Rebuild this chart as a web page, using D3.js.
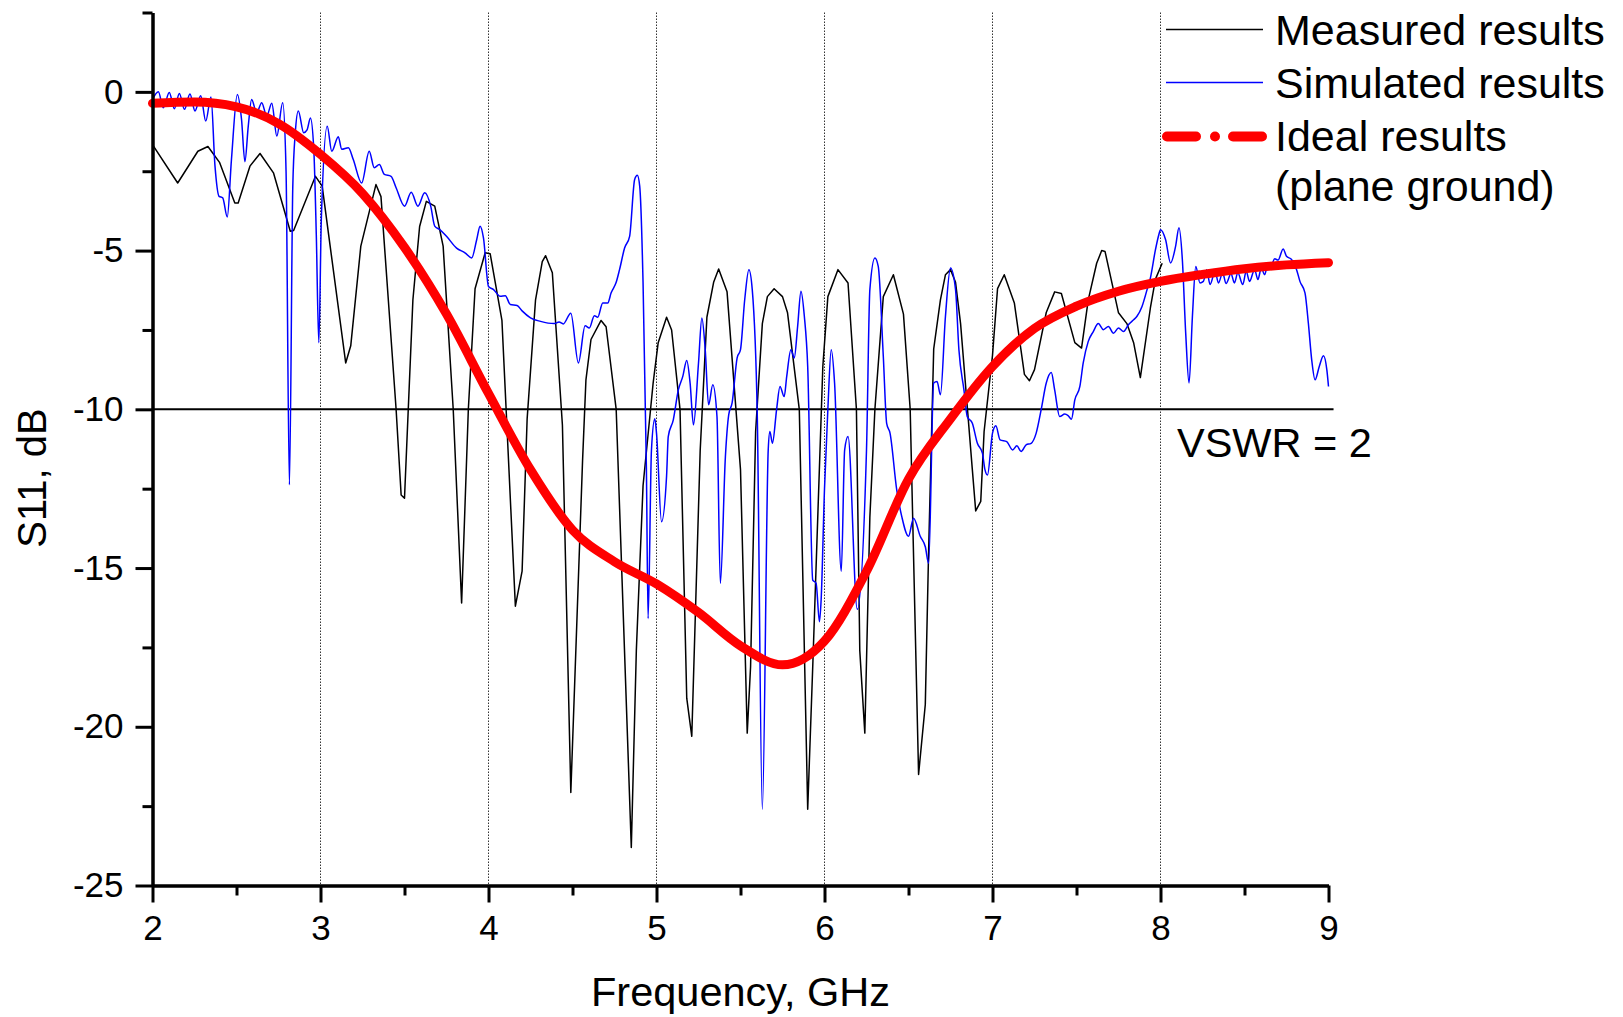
<!DOCTYPE html>
<html>
<head>
<meta charset="utf-8">
<script src="https://cdn.jsdelivr.net/npm/d3@7"></script>
<style>
  html, body { margin: 0; padding: 0; background: #fff; }
  svg { display: block; }
  text { font-family: "Liberation Sans", Arial, sans-serif; fill: #000; }
</style>
</head>
<body>
<svg id="chart" width="1623" height="1017"></svg>
<script>
// ---------- data ----------
const measuredFreq = [2.0,2.15,2.27,2.33,2.40,2.49,2.51,2.58,2.64,2.72,2.82,2.84,2.97,3.01,3.15,3.18,3.24,3.33,3.36,3.45,3.48,3.50,3.55,3.59,3.63,3.68,3.73,3.79,3.84,3.88,3.92,3.98,4.01,4.08,4.16,4.20,4.23,4.28,4.32,4.34,4.38,4.44,4.49,4.56,4.58,4.61,4.67,4.70,4.76,4.85,4.88,4.92,4.98,5.01,5.06,5.09,5.14,5.18,5.21,5.26,5.30,5.34,5.37,5.42,5.50,5.54,5.56,5.59,5.63,5.66,5.70,5.75,5.78,5.85,5.90,5.93,5.99,6.02,6.08,6.14,6.19,6.21,6.24,6.27,6.30,6.35,6.41,6.47,6.51,6.56,6.60,6.62,6.65,6.69,6.72,6.75,6.78,6.81,6.88,6.90,6.93,6.95,7.00,7.03,7.07,7.13,7.19,7.22,7.25,7.32,7.37,7.41,7.49,7.53,7.57,7.62,7.65,7.67,7.75,7.80,7.84,7.88,7.94,7.97,8.01];
const measuredS11 = [-1.66,-2.87,-1.87,-1.72,-2.23,-3.5,-3.5,-2.34,-1.94,-2.55,-4.39,-4.37,-2.66,-2.97,-8.54,-8.0,-4.86,-2.92,-3.3,-10.0,-12.7,-12.8,-6.55,-4.24,-3.45,-3.6,-4.86,-10.0,-16.1,-10.0,-6.2,-5.07,-5.1,-7.2,-16.2,-15.1,-10.3,-6.55,-5.35,-5.16,-5.7,-10.5,-22.07,-11.6,-9.07,-7.8,-7.2,-7.4,-10.0,-23.8,-17.6,-12.4,-9.17,-7.9,-7.1,-7.5,-10.0,-19.1,-20.3,-11.3,-7.1,-6.0,-5.58,-6.3,-11.9,-20.2,-18.1,-10.7,-7.3,-6.45,-6.2,-6.45,-6.96,-10.0,-22.6,-18.1,-8.66,-6.45,-5.6,-6.02,-10.0,-17.6,-20.2,-13.4,-10.0,-6.45,-5.76,-7.0,-10.0,-21.5,-19.3,-14.4,-8.1,-6.55,-5.76,-5.6,-6.0,-7.3,-11.9,-13.2,-12.9,-10.7,-8.3,-6.2,-5.76,-6.65,-8.9,-9.1,-8.75,-6.95,-6.3,-6.35,-7.9,-8.07,-6.55,-5.4,-5.0,-5.03,-6.96,-7.3,-7.9,-9.0,-6.8,-5.9,-5.4];

const simulatedFreq = [2.0,2.035,2.064,2.10,2.13,2.16,2.19,2.223,2.253,2.287,2.317,2.348,2.372,2.396,2.418,2.445,2.47,2.505,2.53,2.55,2.57,2.59,2.62,2.65,2.68,2.71,2.74,2.775,2.795,2.815,2.835,2.85,2.868,2.90,2.92,2.94,2.96,2.975,2.99,3.005,3.04,3.067,3.106,3.126,3.166,3.195,3.245,3.29,3.32,3.35,3.38,3.42,3.45,3.50,3.54,3.58,3.62,3.656,3.68,3.71,3.75,3.81,3.86,3.90,3.93,3.95,3.97,4.0,4.03,4.07,4.10,4.13,4.17,4.20,4.25,4.31,4.39,4.42,4.445,4.49,4.535,4.575,4.60,4.63,4.65,4.68,4.71,4.73,4.76,4.78,4.81,4.84,4.87,4.886,4.90,4.92,4.94,4.95,4.97,4.99,5.0,5.03,5.06,5.07,5.10,5.13,5.156,5.18,5.20,5.22,5.25,5.27,5.29,5.31,5.335,5.36,5.38,5.41,5.43,5.45,5.48,5.50,5.525,5.55,5.57,5.60,5.63,5.665,5.675,5.69,5.715,5.735,5.76,5.775,5.80,5.82,5.84,5.86,5.88,5.90,5.93,5.95,5.97,5.98,6.0,6.02,6.04,6.06,6.10,6.12,6.14,6.195,6.25,6.27,6.30,6.32,6.35,6.37,6.39,6.43,6.46,6.50,6.53,6.57,6.60,6.62,6.65,6.67,6.69,6.72,6.75,6.78,6.80,6.83,6.85,6.88,6.91,6.94,6.955,6.97,7.0,7.02,7.045,7.085,7.12,7.145,7.17,7.20,7.23,7.26,7.29,7.32,7.35,7.37,7.40,7.43,7.45,7.47,7.49,7.52,7.54,7.57,7.60,7.63,7.66,7.69,7.72,7.75,7.78,7.81,7.84,7.86,7.89,7.92,7.94,7.97,7.99,8.00,8.03,8.06,8.09,8.11,8.13,8.15,8.17,8.19,8.21,8.235,8.255,8.275,8.295,8.325,8.345,8.37,8.39,8.42,8.44,8.46,8.49,8.51,8.53,8.56,8.58,8.60,8.62,8.64,8.66,8.68,8.70,8.73,8.75,8.78,8.81,8.83,8.86,8.88,8.90,8.92,8.945,8.97,8.99,9.0];
const simulatedS11 = [-0.24,0.0,-0.5,-0.02,-0.53,-0.05,-0.55,-0.07,-0.6,-0.12,-0.92,-0.16,-2.34,-3.29,-3.34,-3.94,-2.13,-0.08,-0.87,-2.2,-1.08,-0.24,-0.66,-0.34,-0.76,-0.36,-1.39,-0.34,-2.5,-12.38,-3.0,-1.28,-0.6,-1.29,-1.2,-0.82,-1.8,-4.5,-7.9,-4.0,-1.08,-1.87,-1.41,-1.81,-1.76,-2.13,-2.87,-1.87,-2.39,-2.29,-2.6,-2.66,-3.02,-3.6,-3.16,-3.6,-3.18,-3.6,-4.23,-4.34,-4.55,-4.92,-5.07,-5.23,-4.65,-4.23,-4.6,-6.13,-6.23,-6.44,-6.42,-6.7,-6.73,-6.9,-7.12,-7.23,-7.3,-7.25,-7.31,-6.97,-8.54,-7.37,-7.44,-7.05,-7.1,-6.65,-6.65,-6.33,-6.0,-5.6,-4.92,-4.55,-2.76,-2.63,-2.97,-6.02,-11.9,-16.59,-11.28,-10.3,-10.75,-13.54,-12.1,-10.86,-10.33,-9.39,-8.97,-8.46,-9.17,-10.49,-8.54,-7.12,-8.12,-9.86,-9.23,-10.23,-15.48,-11.5,-10.17,-9.8,-8.38,-8.12,-6.55,-5.6,-6.23,-10.23,-22.6,-11.28,-10.7,-11.07,-10.0,-9.28,-9.6,-8.97,-8.12,-8.38,-7.39,-6.28,-7.07,-8.65,-15.38,-15.48,-16.69,-16.0,-12.5,-10.0,-8.12,-9.17,-15.1,-11.28,-10.86,-16.3,-11.28,-6.23,-5.23,-5.5,-8.33,-10.44,-10.75,-12.54,-13.38,-14.0,-13.43,-14.0,-14.33,-14.85,-9.17,-9.12,-9.54,-7.07,-5.55,-6.23,-8.12,-9.39,-10.23,-10.44,-11.07,-11.38,-11.9,-12.07,-10.75,-10.52,-10.96,-11.02,-11.28,-11.15,-11.33,-11.12,-11.07,-10.75,-10.0,-9.17,-8.84,-9.39,-10.23,-10.15,-10.2,-10.31,-9.7,-9.28,-8.54,-7.86,-7.55,-7.30,-7.49,-7.39,-7.6,-7.44,-7.55,-7.33,-7.18,-7.07,-6.76,-6.23,-5.86,-4.97,-4.5,-4.34,-4.65,-5.39,-4.86,-4.28,-5.28,-7.6,-9.17,-7.07,-5.5,-6.02,-5.97,-5.6,-6.07,-5.65,-6.02,-5.70,-6.04,-5.73,-6.02,-5.70,-6.07,-5.65,-5.97,-5.6,-5.91,-5.55,-5.76,-5.39,-5.44,-5.26,-5.3,-4.95,-5.18,-5.28,-5.6,-5.97,-6.33,-7.28,-8.44,-9.07,-8.65,-8.31,-8.75,-9.28];

const idealFreq = [2.0,2.25,2.5,2.75,3.0,3.25,3.5,3.75,4.0,4.25,4.5,4.75,5.0,5.25,5.5,5.75,6.0,6.25,6.5,6.75,7.0,7.25,7.5,7.75,8.0,8.25,8.5,8.75,9.0];
const idealS11 = [-0.36,-0.32,-0.47,-1.0,-1.97,-3.2,-4.9,-7.0,-9.5,-11.9,-13.8,-14.8,-15.5,-16.4,-17.45,-18.05,-17.3,-15.1,-12.2,-10.3,-8.65,-7.45,-6.75,-6.28,-5.97,-5.75,-5.57,-5.45,-5.38];

const xMajorTicks = [2,3,4,5,6,7,8,9];
const xMinorTicks = [2.5,3.5,4.5,5.5,6.5,7.5,8.5];
const yMajorTicks = [0,-5,-10,-15,-20,-25];
const yMinorTicks = [2.5,-2.5,-7.5,-12.5,-17.5,-22.5];
const gridFreqs = [3,4,5,6,7,8];
const vswrLevel = -10;
const seriesNames = ["Measured results","Simulated results","Ideal results","(plane ground)"];

// ---------- chart ----------
const svg = d3.select("#chart");
const x = d3.scaleLinear().domain([2, 9]).range([152.5, 1328.5]);
const y = d3.scaleLinear().domain([-25, 2.5]).range([885.5, 12.5]);

// vertical dotted grid
svg.append("g").selectAll("line").data(gridFreqs).join("line")
  .attr("x1", d => x(d)).attr("x2", d => x(d))
  .attr("y1", y(2.5)).attr("y2", y(-25))
  .attr("stroke", "#333").attr("stroke-width", 1)
  .attr("stroke-dasharray", "1.5,1.5");

// VSWR = 2 line
svg.append("line")
  .attr("x1", x(2)).attr("x2", x(9.03))
  .attr("y1", y(vswrLevel)).attr("y2", y(vswrLevel))
  .attr("stroke", "#000").attr("stroke-width", 2);

svg.append("text")
  .attr("x", 1177).attr("y", 457)
  .attr("font-size", 41.5)
  .text("VSWR = 2");

const line = d3.line().x(d => x(d[0])).y(d => y(d[1]));

const measured = measuredFreq.map((f, i) => [f, measuredS11[i]]);
const simulated = simulatedFreq.map((f, i) => [f, simulatedS11[i]]);
const ideal = idealFreq.map((f, i) => [f, idealS11[i]]);

svg.append("path").datum(measured)
  .attr("d", line.curve(d3.curveLinear))
  .attr("fill", "none").attr("stroke", "#000").attr("stroke-width", 1.5)
  .attr("stroke-linejoin", "round");

svg.append("path").datum(simulated)
  .attr("d", d3.line().x(d => x(d[0])).y(d => y(d[1])).curve(d3.curveMonotoneX))
  .attr("fill", "none").attr("stroke", "#0000ff").attr("stroke-width", 1.5)
  .attr("stroke-linejoin", "round");

svg.append("path").datum(ideal)
  .attr("d", d3.line().x(d => x(d[0])).y(d => y(d[1])).curve(d3.curveMonotoneX))
  .attr("fill", "none").attr("stroke", "#ff0000").attr("stroke-width", 9)
  .attr("stroke-linecap", "round").attr("stroke-linejoin", "round");

// axes
const fontTick = 35;
function styleAxis(g) {
  g.select(".domain").attr("stroke", "#000").attr("stroke-width", 3);
  g.selectAll(".tick line").attr("stroke", "#000").attr("stroke-width", 3);
  g.selectAll(".tick text").attr("font-size", fontTick)
    .attr("font-family", '"Liberation Sans", Arial, sans-serif').attr("fill", "#000");
}

const xMinor = svg.append("g").attr("transform", `translate(0,${y(-25)})`)
  .call(d3.axisBottom(x).tickValues(xMinorTicks).tickSize(10).tickSizeOuter(0).tickFormat(""));
styleAxis(xMinor);
const xMajor = svg.append("g").attr("transform", `translate(0,${y(-25)})`)
  .call(d3.axisBottom(x).tickValues(xMajorTicks).tickSize(17).tickSizeOuter(0).tickPadding(13).tickFormat(d3.format("d")));
styleAxis(xMajor);

const yMinor = svg.append("g").attr("transform", `translate(${x(2)},0)`)
  .call(d3.axisLeft(y).tickValues(yMinorTicks).tickSize(10).tickSizeOuter(0).tickFormat(""));
styleAxis(yMinor);
const yMajor = svg.append("g").attr("transform", `translate(${x(2)},0)`)
  .call(d3.axisLeft(y).tickValues(yMajorTicks).tickSize(17).tickSizeOuter(0).tickPadding(12).tickFormat(d => d === 0 ? "0" : String(d).replace("−", "-")));
styleAxis(yMajor);

// axis titles
svg.append("text")
  .attr("x", (x(2) + x(9)) / 2).attr("y", 1006)
  .attr("text-anchor", "middle").attr("font-size", 41.5)
  .text("Frequency, GHz");

svg.append("text")
  .attr("transform", "translate(46,478) rotate(-90)")
  .attr("text-anchor", "middle").attr("font-size", 40)
  .text("S11, dB");

// legend
const legend = svg.append("g");
const legendFont = 43;
legend.append("line").attr("x1", 1166).attr("x2", 1263).attr("y1", 29.5).attr("y2", 29.5)
  .attr("stroke", "#000").attr("stroke-width", 1.5);
legend.append("line").attr("x1", 1166).attr("x2", 1263).attr("y1", 82.5).attr("y2", 82.5)
  .attr("stroke", "#0000ff").attr("stroke-width", 1.5);
legend.append("line").attr("x1", 1167).attr("x2", 1262).attr("y1", 136.5).attr("y2", 136.5)
  .attr("stroke", "#ff0000").attr("stroke-width", 10)
  .attr("stroke-linecap", "round").attr("stroke-dasharray", "29,19,0.01,18,29");

const legendY = [45, 98, 151, 201];
legend.selectAll("text").data(seriesNames).join("text")
  .attr("x", 1275).attr("y", (d, i) => legendY[i])
  .attr("font-size", legendFont)
  .text(d => d);
</script>
</body>
</html>
